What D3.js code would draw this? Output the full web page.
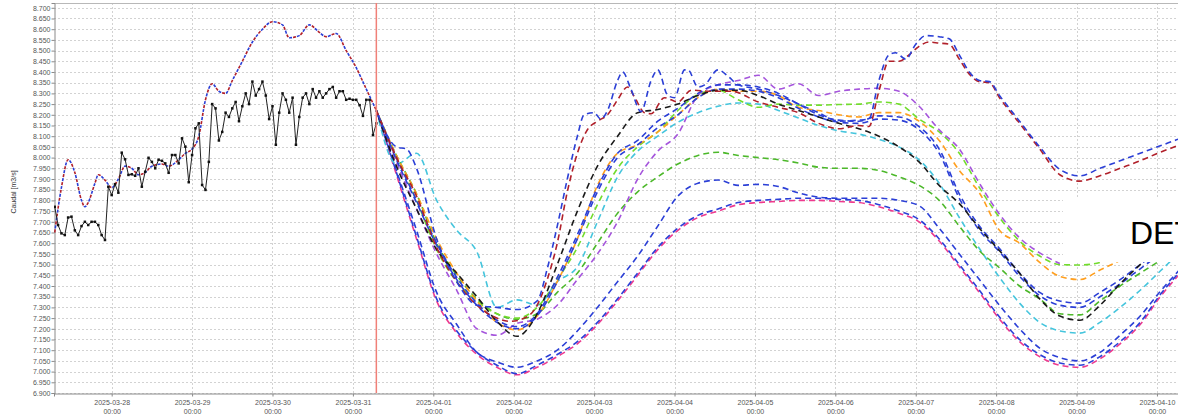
<!DOCTYPE html>
<html>
<head>
<meta charset="utf-8">
<script src="https://cdn.jsdelivr.net/npm/d3@7"></script>
<style>
  body { margin: 0; background: #fff; }
  svg { display: block; font-family: "Liberation Sans", Arial, sans-serif; }
</style>
</head>
<body>
<script>
var width = 1178,
    height = 418;

// observed flow, one value per hour from 2025-03-27 07:00 to 2025-03-31 07:00
var obsValues = [7.77, 7.685, 7.646, 7.638, 7.72, 7.724, 7.66, 7.638, 7.68, 7.70,
  7.685, 7.70, 7.70, 7.685, 7.638, 7.615, 7.864, 7.825, 7.876, 7.836,
  8.023, 7.992, 7.919, 7.922, 7.915, 7.95, 7.864, 7.934, 7.999, 7.98,
  7.95, 7.99, 7.985, 7.973, 7.929, 8.012, 8.012, 7.973, 8.09, 8.051,
  7.885, 8.012, 8.137, 8.16, 7.872, 7.849, 7.98, 8.25, 8.23, 8.08,
  8.12, 8.21, 8.19, 8.23, 8.26, 8.17, 8.24, 8.30, 8.25, 8.355,
  8.29, 8.32, 8.355, 8.29, 8.18, 8.24, 8.06, 8.21, 8.30, 8.27,
  8.21, 8.28, 8.06, 8.19, 8.28, 8.30, 8.25, 8.32, 8.28, 8.31,
  8.28, 8.30, 8.32, 8.33, 8.28, 8.31, 8.31, 8.27, 8.275, 8.27,
  8.27, 8.245, 8.195, 8.27, 8.27, 8.105, 8.16];

// simulated series before the forecast (red and blue overlap), hours from 2025-03-28 00:00
var simHours = [-17, -15, -13, -11, -9, -8, -7, -5, -4, -2, 0, 2, 4, 6, 8, 10, 12, 15, 17, 20,
  22, 24, 26, 28, 30, 32, 34, 36, 39, 42, 45, 48, 51, 53, 56, 59, 62, 64, 67, 70, 73, 76, 79];
var simValues = [7.65, 7.86, 7.99, 7.93, 7.80, 7.77, 7.79, 7.88, 7.92, 7.895, 7.86, 7.90, 7.96, 7.95, 7.92, 7.93, 7.96, 7.97, 7.96, 7.99,
  8.02, 8.04, 8.10, 8.27, 8.345, 8.31, 8.30, 8.36, 8.45, 8.54, 8.60, 8.635, 8.62, 8.56, 8.57, 8.62, 8.585, 8.565, 8.58, 8.50, 8.42, 8.32, 8.22];

// forecast members, hours from 2025-03-31 07:00
var fcHours = [0, 6, 12, 18, 24, 30, 36, 42, 48, 54, 60, 66, 72, 78, 84, 90, 96, 102, 108, 114,
  120, 126, 132, 138, 144, 150, 156, 162, 168, 174, 180, 186, 192, 198, 204, 210, 216, 222, 228, 234, 240];

var fcBlack = [8.22, 7.96, 7.76, 7.57, 7.46, 7.35, 7.235, 7.165, 7.27, 7.50, 7.75, 7.96, 8.10, 8.21, 8.225, 8.25, 8.29, 8.315, 8.315, 8.29,
  8.25, 8.22, 8.19, 8.16, 8.135, 8.10, 8.05, 7.98, 7.87, 7.785, 7.67, 7.565, 7.46, 7.34, 7.26, 7.24, 7.31, 7.41, 7.50, 7.58, 7.65];
var fcBlueA = [8.22, 8.00, 7.80, 7.60, 7.44, 7.32, 7.24, 7.21, 7.27, 7.44, 7.64, 7.86, 8.02, 8.08, 8.17, 8.23, 8.30, 8.34, 8.34, 8.33,
  8.30, 8.25, 8.20, 8.175, 8.17, 8.195, 8.19, 8.145, 8.04, 7.83, 7.68, 7.575, 7.46, 7.37, 7.33, 7.32, 7.37, 7.43, 7.50, 7.57, 7.63];
var fcBlueB = [8.22, 7.99, 7.79, 7.59, 7.43, 7.31, 7.23, 7.20, 7.26, 7.42, 7.62, 7.84, 8.00, 8.06, 8.14, 8.20, 8.28, 8.32, 8.32, 8.31,
  8.28, 8.23, 8.19, 8.165, 8.16, 8.18, 8.175, 8.13, 8.02, 7.81, 7.66, 7.56, 7.445, 7.355, 7.31, 7.30, 7.35, 7.41, 7.48, 7.55, 7.61];
var fcOrange = [8.22, 8.01, 7.83, 7.62, 7.46, 7.33, 7.23, 7.195, 7.26, 7.42, 7.62, 7.87, 8.02, 8.06, 8.12, 8.20, 8.28, 8.32, 8.31, 8.31,
  8.29, 8.235, 8.22, 8.20, 8.19, 8.21, 8.21, 8.17, 8.08, 7.94, 7.835, 7.66, 7.60, 7.51, 7.445, 7.43, 7.475, 7.52, 7.57, 7.62, 7.66];
var fcLGreen = [8.22, 8.00, 7.80, 7.57, 7.42, 7.33, 7.27, 7.25, 7.30, 7.43, 7.58, 7.78, 7.95, 8.05, 8.12, 8.22, 8.295, 8.315, 8.27, 8.235,
  8.25, 8.245, 8.245, 8.248, 8.25, 8.26, 8.25, 8.18, 8.12, 8.02, 7.86, 7.72, 7.61, 7.54, 7.50, 7.498, 7.51, 7.56, 7.61, 7.66, 7.71];
var fcDGreen = [8.22, 8.01, 7.83, 7.60, 7.45, 7.34, 7.27, 7.245, 7.27, 7.37, 7.46, 7.60, 7.74, 7.84, 7.91, 7.97, 8.01, 8.025, 8.01, 8.00,
  7.99, 7.975, 7.955, 7.95, 7.95, 7.94, 7.91, 7.87, 7.80, 7.68, 7.565, 7.485, 7.40, 7.34, 7.27, 7.265, 7.33, 7.40, 7.46, 7.52, 7.59];
var fcCyan = [8.22, 7.97, 8.02, 7.80, 7.66, 7.56, 7.30, 7.335, 7.31, 7.42, 7.49, 7.70, 7.91, 8.03, 8.10, 8.165, 8.21, 8.24, 8.255, 8.25,
  8.22, 8.185, 8.15, 8.125, 8.11, 8.085, 8.05, 7.99, 7.88, 7.72, 7.575, 7.44, 7.32, 7.23, 7.19, 7.18, 7.23, 7.30, 7.38, 7.47, 7.56];
var fcViolet = [8.22, 7.98, 7.76, 7.55, 7.38, 7.20, 7.17, 7.225, 7.245, 7.31, 7.43, 7.55, 7.70, 7.90, 8.03, 8.11, 8.29, 8.34, 8.36, 8.385,
  8.32, 8.345, 8.29, 8.31, 8.32, 8.324, 8.31, 8.24, 8.13, 8.04, 7.88, 7.735, 7.625, 7.555, 7.505];
var fcBlueMid = [8.22, 7.94, 7.66, 7.37, 7.22, 7.09, 7.045, 7.02, 7.05, 7.10, 7.19, 7.30, 7.42, 7.54, 7.68, 7.82, 7.88, 7.895, 7.87, 7.875,
  7.865, 7.835, 7.815, 7.81, 7.81, 7.81, 7.80, 7.775, 7.67, 7.55, 7.43, 7.31, 7.20, 7.11, 7.065, 7.05, 7.09, 7.17, 7.26, 7.375, 7.48];
var fcMagenta = [8.22, 7.92, 7.62, 7.33, 7.18, 7.08, 7.02, 6.985, 7.02, 7.07, 7.13, 7.22, 7.33, 7.45, 7.57, 7.66, 7.72, 7.75, 7.78, 7.79,
  7.795, 7.80, 7.80, 7.795, 7.79, 7.77, 7.74, 7.70, 7.61, 7.49, 7.37, 7.245, 7.14, 7.07, 7.03, 7.02, 7.06, 7.13, 7.22, 7.35, 7.46];
var fcBlueLow = [8.22, 7.93, 7.63, 7.34, 7.19, 7.09, 7.03, 6.99, 7.03, 7.08, 7.14, 7.23, 7.34, 7.46, 7.58, 7.67, 7.73, 7.76, 7.79, 7.80,
  7.805, 7.81, 7.81, 7.805, 7.80, 7.78, 7.75, 7.71, 7.62, 7.50, 7.38, 7.255, 7.15, 7.08, 7.04, 7.03, 7.07, 7.14, 7.23, 7.36, 7.47];

// the two members that carry on the simulated series (finer time steps)
var redHours = [0, 6, 12, 18, 24, 30, 34, 40, 45, 48, 51, 54, 57, 60, 63, 66, 69, 72, 75, 77, 80, 82, 86, 90, 94, 100, 106, 114, 120, 126,
  132, 138, 144, 147, 150, 153, 156, 159, 162, 165, 168, 171, 174, 177, 180, 183, 186, 192, 198, 204, 210, 216, 222, 228, 234, 240];
var redValues = [8.22, 8.00, 7.82, 7.58, 7.42, 7.31, 7.265, 7.235, 7.256, 7.31, 7.43, 7.60, 7.84, 8.02, 8.13, 8.17, 8.20, 8.27, 8.33, 8.285,
  8.21, 8.205, 8.28, 8.26, 8.315, 8.31, 8.31, 8.26, 8.235, 8.21, 8.16, 8.135, 8.15, 8.145, 8.31, 8.45, 8.45, 8.48, 8.52, 8.54,
  8.535, 8.53, 8.46, 8.39, 8.355, 8.35, 8.28, 8.16, 8.04, 7.92, 7.89, 7.915, 7.95, 7.985, 8.025, 8.06];
var oscHours = [0, 6, 9, 12, 18, 24, 30, 36, 42, 48, 51, 54, 57, 60, 62, 65, 67, 69, 72, 73.5, 76, 79, 82, 84, 87, 89, 92, 93, 96, 98,
  102, 105, 108, 114, 120, 126, 132, 138, 144, 147, 150, 153, 155, 158, 161, 164, 168, 171, 174, 177, 180, 183, 186, 192, 198, 204,
  210, 216, 222, 228, 234, 240];
var oscValues = [8.22, 8.05, 8.04, 7.95, 7.62, 7.42, 7.31, 7.30, 7.29, 7.33, 7.48, 7.68, 7.90, 8.10, 8.20, 8.21, 8.18, 8.22, 8.36, 8.40,
  8.32, 8.215, 8.36, 8.41, 8.29, 8.28, 8.41, 8.41, 8.33, 8.34, 8.41, 8.38, 8.34, 8.32, 8.29, 8.25, 8.21, 8.17, 8.175, 8.18,
  8.36, 8.48, 8.49, 8.46, 8.53, 8.57, 8.565, 8.555, 8.48, 8.40, 8.36, 8.355, 8.29, 8.17, 8.05, 7.945, 7.915, 7.95, 7.985, 8.02,
  8.055, 8.09];

var yTicks = d3.range(0, 37).map(function(i) { return +(6.9 + i * 0.05).toFixed(3); });
var dayTicks = d3.utcDay.range(new Date(Date.UTC(2025, 2, 28)), new Date(Date.UTC(2025, 3, 10, 1)));

var obsStart = Date.UTC(2025, 2, 27, 7),
    simStart = Date.UTC(2025, 2, 28, 0),
    fcStart = Date.UTC(2025, 2, 31, 7);

var plotL = 54, plotR = 1178, plotT = 3, plotB = 393;
var blue = "#2b3fd6", red = "#b1202a";

var x = d3.scaleUtc()
    .domain([new Date(Date.UTC(2025, 2, 27, 6, 47)), new Date(Date.UTC(2025, 3, 10, 6, 17))])
    .range([plotL, plotR]);
var y = d3.scaleLinear()
    .domain([6.9, 8.7224])
    .range([plotB, plotT]);

var svg = d3.select("body").append("svg")
    .attr("width", width)
    .attr("height", height);

svg.append("defs").append("clipPath").attr("id", "plot")
  .append("rect")
  .attr("x", plotL).attr("y", plotT)
  .attr("width", plotR - plotL).attr("height", plotB - plotT);

// dotted grid
svg.append("g").selectAll("line")
  .data(yTicks)
  .enter().append("line")
  .attr("x1", plotL).attr("x2", plotR)
  .attr("y1", function(d) { return Math.round(y(d)) + 0.5; })
  .attr("y2", function(d) { return Math.round(y(d)) + 0.5; })
  .attr("stroke", "#d2d2d2")
  .attr("stroke-dasharray", "2,2");

svg.append("g").selectAll("line")
  .data(dayTicks)
  .enter().append("line")
  .attr("x1", function(d) { return Math.round(x(d)) + 0.5; })
  .attr("x2", function(d) { return Math.round(x(d)) + 0.5; })
  .attr("y1", plotT).attr("y2", plotB)
  .attr("stroke", "#d2d2d2")
  .attr("stroke-dasharray", "2,2");

// top frame
svg.append("line")
  .attr("x1", plotL).attr("x2", plotR)
  .attr("y1", plotT + 0.5).attr("y2", plotT + 0.5)
  .attr("stroke", "#b8b8b8");

// axes
var yAxis = svg.append("g")
  .attr("transform", "translate(" + (plotL + 0.5) + ",0)")
  .call(d3.axisLeft(y).tickValues(yTicks).tickFormat(d3.format(".3f")).tickSize(3).tickPadding(1));

var xAxis = svg.append("g")
  .attr("transform", "translate(0," + (plotB + 0.5) + ")")
  .call(d3.axisBottom(x).tickValues(dayTicks).tickFormat("").tickSize(3));

[yAxis, xAxis].forEach(function(g) {
  g.select(".domain").attr("stroke", "#8a8a8a");
  g.selectAll(".tick line").attr("stroke", "#8a8a8a");
  g.selectAll("text").attr("fill", "#555").style("font-size", "7px")
    .style("font-family", "'Liberation Sans', Arial, sans-serif");
});

var fmtDay = d3.utcFormat("%Y-%m-%d"), fmtTime = d3.utcFormat("%H:%M");
xAxis.selectAll(".tick").append("text")
  .attr("fill", "#555")
  .attr("text-anchor", "middle")
  .style("font-size", "7px")
  .each(function(d) {
    var t = d3.select(this);
    t.append("tspan").attr("x", 0).attr("y", 11).text(fmtDay(d));
    t.append("tspan").attr("x", 0).attr("y", 20).text(fmtTime(d));
  });

svg.append("text")
  .attr("transform", "translate(16,192) rotate(-90)")
  .attr("text-anchor", "middle")
  .attr("fill", "#333")
  .style("font-size", "7px")
  .text("Caudal [m3/s]");

// lines
var line = d3.line()
  .x(function(d) { return x(d.t); })
  .y(function(d) { return y(d.v); })
  .curve(d3.curveMonotoneX);

function toPoints(start, hours, values) {
  return values.map(function(v, i) { return {t: new Date(start + hours[i] * 3600000), v: v}; });
}

var plot = svg.append("g").attr("clip-path", "url(#plot)");

var members = [
  {hrs: fcHours, vals: fcMagenta, color: "#ee3a8e", off: 0},
  {hrs: fcHours, vals: fcBlueLow, color: blue, off: 5},
  {hrs: fcHours, vals: fcBlueMid, color: blue, off: 2},
  {hrs: fcHours, vals: fcCyan, color: "#45c5dd", off: 0},
  {hrs: fcHours, vals: fcDGreen, color: "#4cb82a", off: 3},
  {hrs: fcHours, vals: fcLGreen, color: "#72dc2c", off: 1},
  {hrs: fcHours, vals: fcViolet, color: "#a555dc", off: 4},
  {hrs: fcHours, vals: fcOrange, color: "#ff9f1f", off: 2},
  {hrs: fcHours, vals: fcBlueB, color: blue, off: 6},
  {hrs: fcHours, vals: fcBlueA, color: blue, off: 0},
  {hrs: fcHours, vals: fcBlack, color: "#1a1a1a", off: 3},
  {hrs: redHours, vals: redValues, color: red, off: 0},
  {hrs: oscHours, vals: oscValues, color: blue, off: 5}
];

plot.selectAll(".member")
  .data(members)
  .enter().append("path")
  .attr("class", "member")
  .attr("fill", "none")
  .attr("stroke", function(d) { return d.color; })
  .attr("stroke-width", 1.6)
  .attr("stroke-dasharray", "6,4")
  .attr("stroke-dashoffset", function(d) { return d.off; })
  .attr("d", function(d) { return line(toPoints(fcStart, d.hrs, d.vals)); });

// simulated pair before the forecast: red and blue dashes interleaved
var simPts = toPoints(simStart, simHours, simValues);
plot.append("path")
  .attr("fill", "none").attr("stroke", red).attr("stroke-width", 1.6)
  .attr("stroke-dasharray", "3,5")
  .attr("d", line(simPts));
plot.append("path")
  .attr("fill", "none").attr("stroke", blue).attr("stroke-width", 1.6)
  .attr("stroke-dasharray", "3,5").attr("stroke-dashoffset", 4)
  .attr("d", line(simPts));

// observed
var obsPts = obsValues.map(function(v, i) { return {t: new Date(obsStart + i * 3600000), v: v}; });
plot.append("path")
  .attr("fill", "none")
  .attr("stroke", "#222")
  .attr("stroke-width", 1)
  .attr("d", d3.line().x(function(d) { return x(d.t); }).y(function(d) { return y(d.v); })(obsPts));
plot.selectAll(".obs")
  .data(obsPts)
  .enter().append("rect")
  .attr("class", "obs")
  .attr("x", function(d) { return x(d.t) - 1.25; })
  .attr("y", function(d) { return y(d.v) - 1.25; })
  .attr("width", 2.5).attr("height", 2.5)
  .attr("fill", "#111");

// forecast start marker
svg.append("line")
  .attr("x1", x(new Date(fcStart))).attr("x2", x(new Date(fcStart)))
  .attr("y1", plotT).attr("y2", plotB)
  .attr("stroke", "#f08078")
  .attr("stroke-width", 1.5);

// legend box, cut off by the right edge
svg.append("rect")
  .attr("x", 1063).attr("y", 197)
  .attr("width", 130).attr("height", 65)
  .attr("fill", "#fff");
svg.append("text")
  .attr("x", 1130).attr("y", 244)
  .attr("fill", "#000")
  .style("font-size", "32px")
  .text("DET");
</script>
</body>
</html>
